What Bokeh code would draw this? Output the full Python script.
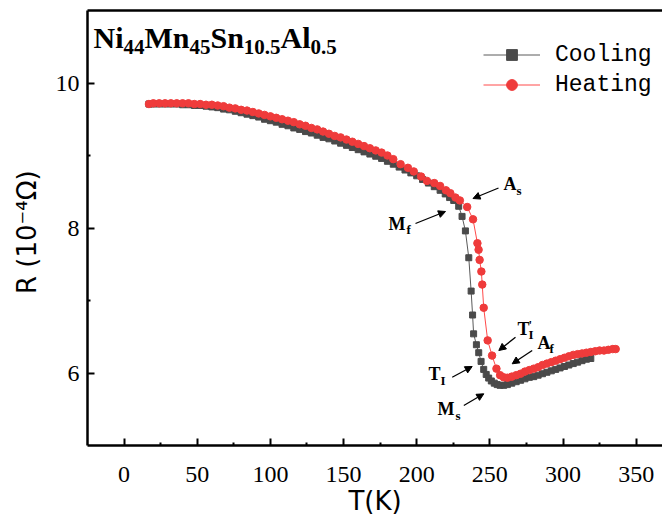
from bokeh.plotting import figure
from bokeh.models import (Range1d, LinearAxis, FixedTicker, Label, Arrow,
                          NormalHead, Legend, LegendItem)
from bokeh.embed import file_html
from bokeh.resources import INLINE

# ---------------- data ----------------
cool_T = [17, 20, 24, 28, 32, 36, 40, 44, 48, 52, 56, 60, 64, 68, 72, 76, 80, 84, 88, 92,
          96, 100, 104, 108, 112, 116, 120, 124, 128, 132, 136, 140, 144, 148, 152, 156,
          160, 164, 168, 172, 176, 180, 184, 188, 192, 196, 200, 204, 208, 212, 216,
          219.5, 222.5, 225.3, 228.7, 231.0, 233.3, 235.6, 237.2, 238.2, 238.9, 240.8,
          242.4, 244.0, 245.8, 247.5, 249.2, 251, 253, 255, 257, 259.5, 262, 265, 268,
          271, 274, 277, 280, 283, 286, 289, 292, 295, 298, 301, 304, 307, 310, 313,
          316, 319]
cool_R = [9.71, 9.71, 9.71, 9.71, 9.71, 9.71, 9.70, 9.70, 9.69, 9.69, 9.68, 9.67, 9.66,
          9.64, 9.63, 9.61, 9.59, 9.57, 9.55, 9.53, 9.50, 9.48, 9.46, 9.43, 9.41, 9.38,
          9.36, 9.33, 9.31, 9.28, 9.25, 9.23, 9.20, 9.17, 9.14, 9.11, 9.08, 9.05, 9.02,
          8.99, 8.96, 8.92, 8.88, 8.84, 8.80, 8.76, 8.72, 8.67, 8.62, 8.57, 8.52, 8.47,
          8.42, 8.38, 8.30, 8.16, 7.96, 7.59, 7.13, 6.80, 6.54, 6.39, 6.28, 6.16, 6.05,
          5.98, 5.93, 5.89, 5.86, 5.84, 5.83, 5.83, 5.84, 5.86, 5.88, 5.90, 5.92, 5.94,
          5.95, 5.97, 5.99, 6.01, 6.03, 6.05, 6.07, 6.09, 6.11, 6.13, 6.15, 6.17, 6.19,
          6.20]

heat_T = [17, 20, 24, 28, 32, 36, 40, 44, 48, 52, 56, 60, 64, 68, 72, 76, 80, 84, 88, 92,
          96, 100, 104, 108, 112, 116, 120, 124, 128, 132, 136, 140, 144, 148, 152, 156,
          160, 164, 168, 172, 176, 180, 184, 189, 194, 198, 203, 207, 212, 216, 220,
          223, 226.5, 229.5, 234.5, 238.5, 241.5, 242.3, 243.0, 244.2, 244.8, 245.8,
          248.5, 251.5, 254.5, 257, 259.5, 262, 265, 268, 271, 274, 277, 280, 283, 286,
          289, 292, 295, 298, 301, 304, 307, 310, 313, 316, 319, 322, 325, 328, 331,
          334, 336]
heat_R = [9.71, 9.72, 9.72, 9.72, 9.72, 9.72, 9.72, 9.72, 9.71, 9.71, 9.70, 9.70, 9.69,
          9.68, 9.66, 9.65, 9.63, 9.62, 9.60, 9.58, 9.56, 9.54, 9.52, 9.50, 9.48, 9.46,
          9.43, 9.41, 9.38, 9.36, 9.33, 9.30, 9.27, 9.25, 9.22, 9.19, 9.16, 9.13, 9.10,
          9.07, 9.04, 9.00, 8.95, 8.88, 8.83, 8.78, 8.71, 8.65, 8.62, 8.58, 8.52, 8.48,
          8.42, 8.38, 8.29, 8.12, 7.79, 7.70, 7.56, 7.40, 7.22, 6.90, 6.45, 6.24, 6.06,
          5.97, 5.94, 5.935, 5.95, 5.97, 5.99, 6.02, 6.04, 6.06, 6.08, 6.11, 6.13, 6.15,
          6.17, 6.19, 6.21, 6.23, 6.25, 6.26, 6.27, 6.28, 6.29, 6.30, 6.31, 6.31, 6.32,
          6.33, 6.33]

x_ticks = [0, 50, 100, 150, 200, 250, 300, 350]
x_minor = [25, 75, 125, 175, 225, 275, 325]
y_ticks = [6, 8, 10]
y_minor = [7, 9]
series_names = ["Cooling", "Heating"]
x_title = "T(K)"
y_title = "R  (10\u207b\u2074\u03a9)"
title_parts = [("Ni", False), ("44", True), ("Mn", False), ("45", True),
               ("Sn", False), ("10.5", True), ("Al", False), ("0.5", True)]

# ---------------- layout ----------------
W, H = 662, 521
L, TOP, BOT = 87, 10, 76
X0, X1 = -25, 368
Y0, Y1 = 5, 11
FW, FH = W - L, H - TOP - BOT


def dx(px):
    return X0 + (px - L) / FW * (X1 - X0)


def dy(py):
    return Y1 - (py - TOP) / FH * (Y1 - Y0)


p = figure(width=W, height=H, x_range=Range1d(X0, X1), y_range=Range1d(Y0, Y1),
           output_backend="svg", toolbar_location=None,
           min_border_left=L, min_border_right=0, min_border_top=TOP,
           min_border_bottom=BOT)
p.xgrid.visible = False
p.ygrid.visible = False
p.outline_line_color = None
p.background_fill_color = "white"
p.border_fill_color = "white"

for ax, tk, mn in ((p.xaxis[0], x_ticks, x_minor), (p.yaxis[0], y_ticks, y_minor)):
    ax.ticker = FixedTicker(ticks=tk, minor_ticks=mn)
    ax.axis_line_width = 2.5
    ax.axis_line_color = "black"
    ax.major_tick_in = 7
    ax.major_tick_out = 0
    ax.minor_tick_in = 3
    ax.minor_tick_out = 0
    ax.major_tick_line_width = 2
    ax.minor_tick_line_width = 2
    ax.major_tick_line_color = "black"
    ax.minor_tick_line_color = "black"
    ax.major_label_text_font = "Liberation Serif"
    ax.major_label_text_font_size = "24px"
    ax.major_label_text_color = "black"
    ax.axis_label_text_font = "DejaVu Sans"
    ax.axis_label_text_font_style = "normal"
    ax.axis_label_text_color = "black"

p.xaxis[0].axis_label = x_title
p.xaxis[0].axis_label_text_font_size = "26px"
p.xaxis[0].major_label_standoff = 21
p.xaxis[0].axis_label_standoff = 1
p.yaxis[0].axis_label = y_title
p.yaxis[0].axis_label_text_font_size = "26px"
p.yaxis[0].major_label_standoff = 8
p.yaxis[0].axis_label_standoff = 11

top_axis = LinearAxis(ticker=FixedTicker(ticks=[], minor_ticks=[]),
                      major_label_text_font_size="0px", major_label_standoff=0,
                      axis_line_width=2.5, axis_line_color="black",
                      major_tick_line_color=None, minor_tick_line_color=None)
p.add_layout(top_axis, "above")

# ---------------- series ----------------
gray_line, gray_mk = "#5a5a5a", "#4a4a4a"
red_line, red_mk = "#ff4a4a", "#ef3b3b"
cl = p.line(cool_T, cool_R, line_color=gray_line, line_width=1)
cs = p.scatter(cool_T, cool_R, marker="square", size=6, fill_color=gray_mk,
               line_color=gray_mk)
hl = p.line(heat_T, heat_R, line_color=red_line, line_width=1)
hs = p.scatter(heat_T, heat_R, marker="circle", size=7.5, fill_color=red_mk,
               line_color=red_mk)

legend = Legend(items=[LegendItem(label=series_names[0], renderers=[cl, cs]),
                       LegendItem(label=series_names[1], renderers=[hl, hs])],
                location=(396, 347), border_line_color=None, background_fill_alpha=0,
                padding=0, margin=0, spacing=3, glyph_width=57, glyph_height=27,
                label_height=27, label_standoff=15,
                label_text_font="Liberation Mono", label_text_font_size="23px",
                label_text_color="black")
p.add_layout(legend)


def put(txt, px, py, size):
    # py is the wanted alphabetic baseline in screen pixels
    p.add_layout(Label(x=dx(px), y=dy(py - 0.26 * size), text=txt,
                       text_font="Liberation Serif", text_font_style="bold",
                       text_font_size=f"{size}px", text_baseline="alphabetic",
                       text_align="left", text_color="black"))


# ---------------- title (composition formula) ----------------
tw = {"N": .722, "i": .278, "M": .944, "n": .556, "S": .556, "A": .722, "l": .278,
      ".": .25}
MAIN, SUB = 30, 21
xpos = 93.0
for txt, is_sub in title_parts:
    size = SUB if is_sub else MAIN
    put(txt, xpos, 52 if is_sub else 45, size)
    xpos += sum(tw.get(c, .5) for c in txt) * size

# ---------------- annotations ----------------
notes = [
    [("A", 503, 188, 18), ("s", 516, 193, 13)],
    [("M", 388, 228, 18), ("f", 406, 232, 13)],
    [("T", 517, 333, 18), ("I", 528, 337, 13), ("'", 528, 327, 13)],
    [("A", 537, 347, 18), ("f", 549, 351, 13)],
    [("T", 428, 378, 18), ("I", 440, 383, 13)],
    [("M", 437, 413, 18), ("s", 455, 418, 13)],
]
for pieces in notes:
    for txt, px, py, size in pieces:
        put(txt, px, py, size)

arrows = [((498, 187.5), (472.5, 198)),
          ((415, 223), (445, 211)),
          ((515, 336.7), (498.3, 350)),
          ((531.7, 350), (511.7, 363.3)),
          ((451.7, 376.7), (471.7, 366)),
          ((463.3, 405), (483.3, 393.3))]
for (x0, y0), (x1, y1) in arrows:
    p.add_layout(Arrow(x_start=dx(x0), y_start=dy(y0), x_end=dx(x1), y_end=dy(y1),
                       line_width=1.3, line_color="black",
                       end=NormalHead(size=7, fill_color="black", line_color="black")))

open("out.html", "w").write(file_html(p, INLINE))
